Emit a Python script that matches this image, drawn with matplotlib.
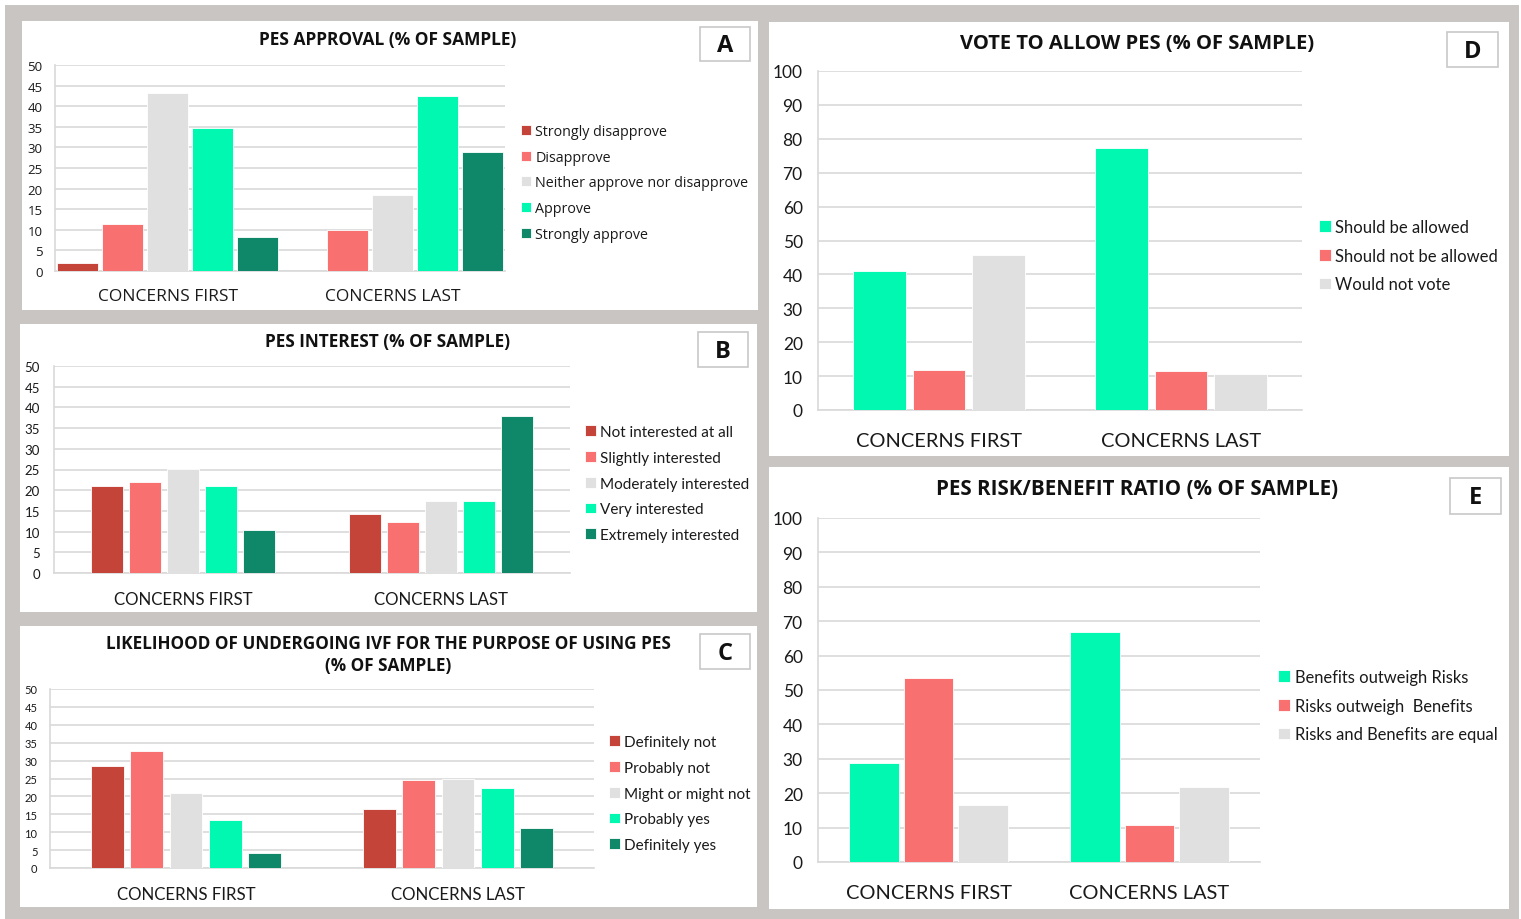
import numpy as np
import matplotlib.pyplot as plt
from matplotlib.patches import Rectangle

W, H = 1521, 920

groups = ["CONCERNS FIRST", "CONCERNS LAST"]

# A - approval
approval_labels = ["Strongly disapprove", "Disapprove", "Neither approve nor disapprove",
                   "Approve", "Strongly approve"]
approval_first = [1.9, 11.3, 43.3, 34.6, 8.3]
approval_last = [0.0, 10.0, 18.4, 42.4, 28.8]

# B - interest
interest_labels = ["Not interested at all", "Slightly interested", "Moderately interested",
                   "Very interested", "Extremely interested"]
interest_first = [21.1, 22.0, 25.2, 21.1, 10.4]
interest_last = [14.2, 12.4, 17.4, 17.4, 38.0]

# C - likelihood of IVF
ivf_labels = ["Definitely not", "Probably not", "Might or might not", "Probably yes", "Definitely yes"]
ivf_first = [28.5, 32.6, 21.0, 13.5, 4.1]
ivf_last = [16.4, 24.7, 24.8, 22.4, 11.2]

# D - vote
vote_labels = ["Should be allowed", "Should not be allowed", "Would not vote"]
vote_first = [40.9, 11.8, 45.6]
vote_last = [77.2, 11.4, 10.5]

# E - risk/benefit
risk_labels = ["Benefits outweigh Risks", "Risks outweigh  Benefits", "Risks and Benefits are equal"]
risk_first = [28.7, 53.6, 16.7]
risk_last = [66.8, 10.9, 21.8]

DRED, SALMON, LGRAY, MINT, DGREEN = "#C5443A", "#F87070", "#E0E0E0", "#00F8B0", "#0E8868"
five_colors = [DRED, SALMON, LGRAY, MINT, DGREEN]
three_colors = [MINT, SALMON, LGRAY]
TXT = "#1A1A1A"

fig = plt.figure(figsize=(W / 100, H / 100), dpi=100, facecolor="white")


def fx(x):
    return x / W


def fy(y):
    return 1 - y / H


def rect(x0, y0, x1, y1, **kw):
    fig.add_artist(Rectangle((fx(x0), fy(y1)), (x1 - x0) / W, (y1 - y0) / H,
                             transform=fig.transFigure, **kw))


def px_axes(x0, y0, x1, y1):
    return fig.add_axes([fx(x0), fy(y1), (x1 - x0) / W, (y1 - y0) / H])


# background frame and white panels
rect(5, 6, 1519, 920, facecolor="#C9C5C3", edgecolor="none", zorder=0)
for box in [(22, 22, 758, 311), (20, 325, 757, 613), (20, 627, 757, 908),
            (769, 23, 1509, 457), (769, 468, 1509, 910)]:
    rect(*box, facecolor="white", edgecolor="none", zorder=0)


def panel(box, first, last, labels, colors, slot, width, ymax, step, font,
          tick_fs, tick_pad, cat_fs, cat_pad, leg_xy, leg_fs, leg_space, leg_tp):
    ax = px_axes(*box)
    n = len(labels)
    x = np.arange(len(groups))
    offs = (np.arange(n) - (n - 1) / 2) * slot
    for i in range(n):
        ax.bar(x + offs[i], [first[i], last[i]], width, color=colors[i],
               edgecolor="white", linewidth=0.6, label=labels[i], zorder=3)
    ax.set_xlim(-0.5, 1.5)
    ax.set_ylim(0, ymax)
    ax.set_yticks(np.arange(0, ymax + 1, step))
    ax.set_xticks(x)
    ax.set_xticklabels(groups, fontsize=cat_fs, family=font, color=TXT)
    for lab in ax.get_yticklabels():
        lab.set_fontsize(tick_fs)
        lab.set_family(font)
        lab.set_color(TXT)
    ax.tick_params(axis="both", length=0)
    ax.tick_params(axis="x", pad=cat_pad)
    ax.tick_params(axis="y", pad=tick_pad)
    ax.grid(axis="y", color="#D9D9D9", linewidth=1.2, zorder=0)
    for s in ["top", "right"]:
        ax.spines[s].set_visible(False)
    for s in ["left", "bottom"]:
        ax.spines[s].set_color("#D9D9D9")
        ax.spines[s].set_linewidth(1.2)
    leg = ax.legend(loc="upper left", bbox_to_anchor=(fx(leg_xy[0]), fy(leg_xy[1])),
                    bbox_transform=fig.transFigure, frameon=False, handlelength=0.7,
                    handleheight=0.7, handletextpad=leg_tp, labelspacing=leg_space,
                    borderpad=0, borderaxespad=0,
                    prop={"family": font, "size": leg_fs})
    for t in leg.get_texts():
        t.set_color(TXT)
    return ax


def title(x, y, text, font, fs):
    fig.text(fx(x), fy(y), text, ha="center", va="center", fontsize=fs,
             fontweight="bold", family=font, color="#111111", linespacing=1.35)


def tag(x0, y0, x1, y1, letter):
    rect(x0, y0, x1, y1, facecolor="white", edgecolor="#C8C8C8", linewidth=1.2, zorder=2)
    fig.text(fx((x0 + x1) / 2), fy((y0 + y1) / 2 + 1), letter, ha="center", va="center",
             fontsize=17, fontweight="bold", family="Open Sans", color="#111111", zorder=3)


# A
panel((55, 66, 505, 272), approval_first, approval_last, approval_labels, five_colors,
      0.2, 0.178, 50, 5, "Open Sans", 9.5, 9, 12.5, 12, (521, 125), 10.3, 0.75, 0.3)
title(388, 40, "PES APPROVAL (% OF SAMPLE)", "Open Sans", 12.5)
tag(700, 28, 750, 62, "A")

# B
panel((54, 367, 570, 574), interest_first, interest_last, interest_labels, five_colors,
      0.147, 0.124, 50, 5, "Lato", 9.5, 10, 12.2, 13, (585, 426), 11, 0.77, 0.3)
title(388, 342, "PES INTEREST (% OF SAMPLE)", "Open Sans", 12.4)
tag(698, 333, 748, 368, "B")

# C
panel((50, 690, 594, 869), ivf_first, ivf_last, ivf_labels, five_colors,
      0.1445, 0.12, 50, 5, "Lato", 8, 9, 12.2, 13, (609, 736), 11, 0.77, 0.3)
title(388, 655, "LIKELIHOOD OF UNDERGOING IVF FOR THE PURPOSE OF USING PES\n(% OF SAMPLE)",
      "Open Sans", 12.3)
tag(700, 635, 750, 670, "C")

# D
panel((818, 72, 1302, 411), vote_first, vote_last, vote_labels, three_colors,
      0.244, 0.219, 100, 10, "Lato", 12.5, 11, 14.4, 16, (1319, 220), 12.0, 0.76, 0.25)
title(1137, 44, "VOTE TO ALLOW PES (% OF SAMPLE)", "Open Sans", 14.5)
tag(1447, 33, 1498, 68, "D")

# E
panel((818, 519, 1260, 863), risk_first, risk_last, risk_labels, three_colors,
      0.247, 0.224, 100, 10, "Lato", 12.5, 11, 14.4, 16, (1278, 670), 11.9, 0.76, 0.3)
title(1137, 490, "PES RISK/BENEFIT RATIO (% OF SAMPLE)", "Open Sans", 14.8)
tag(1450, 479, 1501, 515, "E")

fig.savefig("out.png", dpi=100, facecolor=fig.get_facecolor())
